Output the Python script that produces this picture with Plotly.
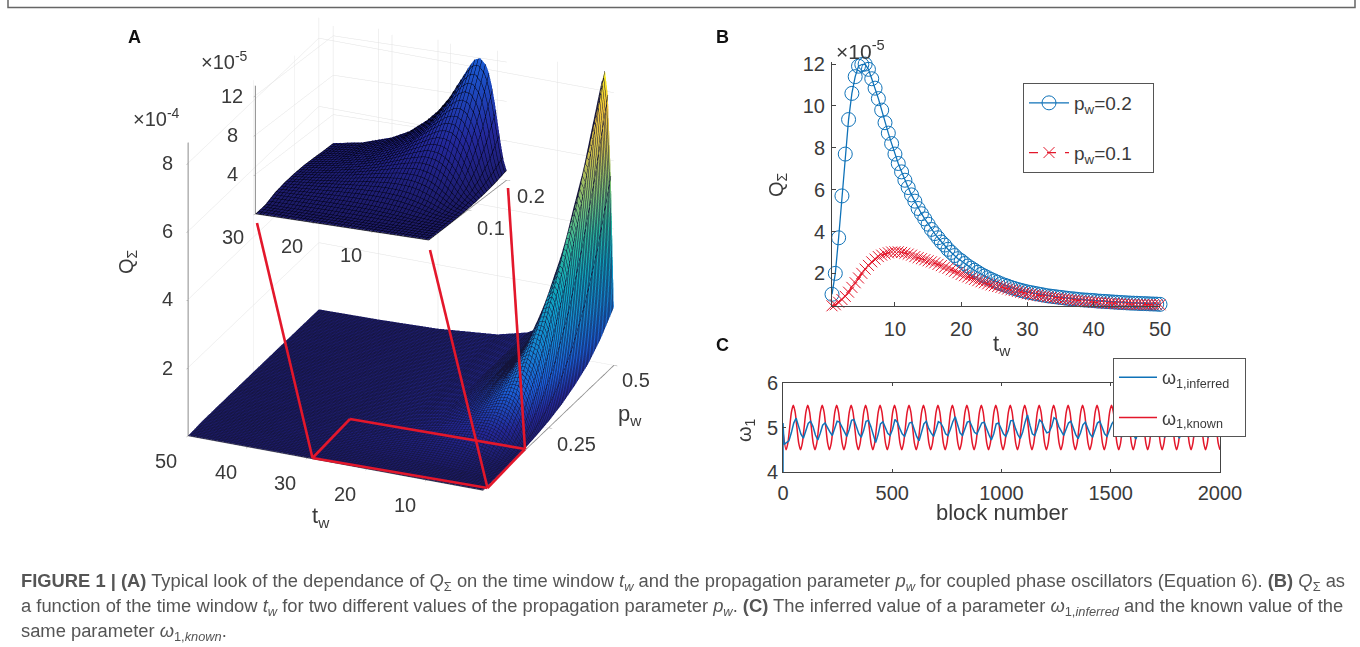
import numpy as np
import plotly.graph_objects as go

W, H = 1360, 647
FONT = "Liberation Sans"
INK = "#3a3a3a"
RED = "#e3172b"
BLUE = "#0f72b8"

# ---------- Panel A lower surface (values in units of 1e-5) ----------
a_p = [0.0, 0.05, 0.1, 0.15, 0.2, 0.25, 0.3, 0.35, 0.4, 0.45, 0.5]
a_t = [0.5, 1, 1.5, 2, 2.5, 3, 4, 5, 6, 8, 10, 12, 15, 20, 30, 40, 50]
a_q = [
    [0, .016, .125, .42, 1.0, 1.8, 3.1, 5.0, 7.5, 11.5, 17.0],
    [0, .03, .25, .84, 2.0, 4.5, 8.7, 15.4, 25.0, 38.0, 55.4],
    [0, .05, .38, 1.35, 3.7, 8.3, 15.8, 26.6, 41.0, 58.4, 79.0],
    [0, .06, .5, 2.08, 5.7, 12.3, 22.0, 34.8, 50.2, 67.5, 86.3],
    [0, .08, .7, 2.9, 7.7, 15.5, 26.0, 38.7, 52.8, 68.0, 82.7],
    [0, .09, .93, 3.77, 9.35, 17.6, 28.1, 39.4, 51.7, 62.9, 74.4],
    [0, .13, 1.43, 5.26, 11.4, 19.2, 27.7, 35.6, 43.1, 49.9, 55.4],
    [0, .18, 1.93, 6.19, 12.0, 18.4, 24.4, 29.5, 33.9, 37.4, 41.3],
    [0, .23, 2.34, 6.69, 11.75, 16.6, 20.8, 23.6, 26.8, 28.4, 31.3],
    [0, .36, 2.85, 6.61, 9.8, 12.3, 14.4, 16.1, 17.2, 18.1, 18.7],
    [0, .48, 3.0, 5.82, 7.7, 9.2, 10.3, 11.0, 11.4, 11.6, 11.8],
    [0, .58, 2.94, 4.95, 6.1, 6.96, 7.55, 7.9, 7.9, 7.9, 8.0],
    [0, .69, 2.59, 3.71, 4.35, 4.6, 4.8, 4.85, 4.9, 4.95, 5.0],
    [0, .75, 1.93, 2.45, 2.6, 2.7, 2.75, 2.75, 2.8, 2.8, 2.8],
    [0, .65, 1.09, 1.15, 1.11, 1.15, 1.2, 1.2, 1.22, 1.24, 1.24],
    [0, .48, .65, .62, .65, .68, .68, .7, .7, .7, .7],
    [0, .36, .41, .42, .42, .45, .45, .45, .45, .45, .45],
]

# ---------- Panel A inset surface (values in units of 1e-5) ----------
i_p = [0.0, 0.025, 0.05, 0.075, 0.1, 0.125, 0.15, 0.175, 0.2]
i_t = [0.5, 1, 1.5, 2, 2.5, 3, 3.5, 4, 5, 6, 7, 8, 9, 10, 12, 14, 17, 20, 25, 30]
i_q = [
    [0, .002, .016, .053, .125, .24, .42, .67, 1.0],
    [0, .004, .031, .105, .25, .49, .84, 1.34, 2.0],
    [0, .006, .047, .158, .375, .73, 1.35, 2.3, 3.7],
    [0, .008, .063, .21, .5, 1.09, 2.08, 3.6, 5.7],
    [0, .01, .078, .264, .7, 1.54, 2.93, 4.9, 7.7],
    [0, .012, .094, .34, .93, 2.03, 3.77, 6.2, 9.35],
    [0, .014, .11, .42, 1.18, 2.5, 4.56, 7.28, 10.6],
    [0, .016, .125, .52, 1.43, 3.0, 5.26, 8.12, 11.4],
    [0, .02, .175, .73, 1.93, 3.78, 6.19, 9.04, 12.0],
    [0, .023, .23, .94, 2.34, 4.29, 6.69, 9.19, 11.75],
    [0, .027, .29, 1.14, 2.65, 4.6, 6.75, 8.89, 10.85],
    [0, .031, .36, 1.31, 2.85, 4.68, 6.61, 8.31, 9.8],
    [0, .037, .42, 1.45, 2.98, 4.68, 6.24, 7.58, 8.8],
    [0, .044, .48, 1.55, 3.0, 4.49, 5.82, 6.89, 7.7],
    [0, .058, .58, 1.67, 2.94, 4.04, 4.95, 5.52, 6.1],
    [0, .073, .66, 1.69, 2.71, 3.51, 4.05, 4.52, 4.9],
    [0, .097, .73, 1.6, 2.33, 2.77, 3.15, 3.37, 3.5],
    [0, .12, .75, 1.46, 1.93, 2.24, 2.45, 2.57, 2.6],
    [0, .15, .72, 1.18, 1.44, 1.6, 1.69, 1.69, 1.64],
    [0, .17, .65, .93, 1.09, 1.17, 1.15, 1.11, 1.11],
]

# ---------- Panel B ----------
b_t = [i * 0.5 for i in range(1, 101)]
b_q02 = [
    1.0, 2.0, 3.7, 5.7, 7.7, 9.35, 10.6, 11.4, 11.9, 11.98,
    12.0, 11.75, 11.3, 10.85, 10.35, 9.8, 9.2, 8.7, 8.2, 7.7,
    7.25, 6.85, 6.45, 6.1, 5.75, 5.45, 5.1, 4.85, 4.6, 4.35,
    4.1, 3.9, 3.7, 3.5, 3.35, 3.15, 3.0, 2.85, 2.7, 2.6,
    2.47, 2.35, 2.25, 2.15, 2.05, 1.95, 1.87, 1.79, 1.71, 1.64,
    1.57, 1.5, 1.44, 1.39, 1.33, 1.28, 1.23, 1.19, 1.15, 1.11,
    1.08, 1.05, 1.02, .99, .96, .93, .91, .89, .87, .85,
    .83, .81, .79, .78, .76, .74, .73, .72, .71, .70,
    .68, .67, .66, .65, .64, .63, .62, .61, .60, .59,
    .58, .575, .57, .56, .555, .55, .54, .535, .53, .52,
]
b_q01 = [
    .45, .5, .62, .75, .9, 1.1, 1.33, 1.55, 1.78, 2.0,
    2.2, 2.38, 2.55, 2.68, 2.8, 2.87, 2.93, 2.98, 3.02, 3.03,
    3.03, 3.0, 2.96, 2.92, 2.87, 2.8, 2.75, 2.7, 2.65, 2.6,
    2.55, 2.5, 2.43, 2.37, 2.3, 2.24, 2.17, 2.1, 2.03, 1.95,
    1.89, 1.83, 1.77, 1.71, 1.65, 1.6, 1.55, 1.5, 1.45, 1.41,
    1.37, 1.33, 1.29, 1.25, 1.21, 1.18, 1.14, 1.1, 1.07, 1.03,
    1.0, .97, .95, .92, .9, .87, .85, .83, .81, .79,
    .77, .75, .73, .71, .70, .68, .67, .65, .64, .62,
    .61, .60, .59, .58, .57, .56, .55, .54, .53, .53,
    .52, .52, .51, .51, .50, .50, .50, .50, .50, .50,
]

# ---------- Panel C ----------
c_known = [
    4.9,
    4.5, 4.65, 5.0, 5.35, 5.5, 5.35, 5.0, 4.65, 4.5, 4.65, 5.0, 5.35, 5.5, 5.35, 5.0, 4.65,
    4.5, 4.65, 5.0, 5.35, 5.5, 5.35, 5.0, 4.65, 4.5, 4.65, 5.0, 5.35, 5.5, 5.35, 5.0, 4.65,
    4.5, 4.65, 5.0, 5.35, 5.5, 5.35, 5.0, 4.65, 4.5, 4.65, 5.0, 5.35, 5.5, 5.35, 5.0, 4.65,
    4.5, 4.65, 5.0, 5.35, 5.5, 5.35, 5.0, 4.65, 4.5, 4.65, 5.0, 5.35, 5.5, 5.35, 5.0, 4.65,
    4.5, 4.65, 5.0, 5.35, 5.5, 5.35, 5.0, 4.65, 4.5, 4.65, 5.0, 5.35, 5.5, 5.35, 5.0, 4.65,
    4.5, 4.65, 5.0, 5.35, 5.5, 5.35, 5.0, 4.65, 4.5, 4.65, 5.0, 5.35, 5.5, 5.35, 5.0, 4.65,
    4.5, 4.65, 5.0, 5.35, 5.5, 5.35, 5.0, 4.65, 4.5, 4.65, 5.0, 5.35, 5.5, 5.35, 5.0, 4.65,
    4.5, 4.65, 5.0, 5.35, 5.5, 5.35, 5.0, 4.65, 4.5, 4.65, 5.0, 5.35, 5.5, 5.35, 5.0, 4.65,
    4.5, 4.65, 5.0, 5.35, 5.5, 5.35, 5.0, 4.65, 4.5, 4.65, 5.0, 5.35, 5.5, 5.35, 5.0, 4.65,
    4.5, 4.65, 5.0, 5.35, 5.5, 5.35, 5.0, 4.65, 4.5, 4.65, 5.0, 5.35, 5.5, 5.35, 5.0, 4.65,
    4.5, 4.65, 5.0, 5.35, 5.5, 5.35, 5.0, 4.65, 4.5, 4.65, 5.0, 5.35, 5.5, 5.35, 5.0, 4.65,
    4.5, 4.65, 5.0, 5.35, 5.5, 5.35, 5.0, 4.65, 4.5, 4.65, 5.0, 5.35, 5.5, 5.35, 5.0, 4.65,
    4.5, 4.65, 5.0, 5.35, 5.5, 5.35, 5.0, 4.65, 4.5, 4.65, 5.0, 5.35, 5.5, 5.35, 5.0, 4.65,
    4.5, 4.65, 5.0, 5.35, 5.5, 5.35, 5.0, 4.65, 4.5, 4.65, 5.0, 5.35, 5.5, 5.35, 5.0, 4.65,
    4.5, 4.65, 5.0, 5.35, 5.5, 5.35, 5.0, 4.65, 4.5, 4.65, 5.0, 5.35, 5.5, 5.35, 5.0, 4.65,
    4.5,
]
c_known_blocks = [0] + [14 + 8.275 * i for i in range(len(c_known) - 1)]
c_inferred = [
    4.0, 5.1,
    4.62, 4.66, 4.70, 4.88, 5.10, 5.21,
    5.05, 4.85, 4.76, 4.92, 5.09, 5.14,
    5.02, 4.83, 4.72, 4.87, 5.05, 5.10,
    4.98, 4.90, 4.82, 4.99, 5.14, 5.12,
    5.00, 4.88, 4.80, 4.95, 5.16, 5.18,
    5.04, 4.86, 4.78, 4.93, 5.14, 5.16,
    5.02, 4.82, 4.66, 4.84, 5.08, 5.13,
    5.00, 4.87, 4.82, 4.96, 5.18, 5.12,
    4.98, 4.86, 4.80, 4.95, 5.10, 5.12,
    4.96, 4.80, 4.70, 4.88, 5.08, 5.14,
    4.98, 4.88, 4.80, 4.95, 5.13, 5.10,
    5.00, 4.86, 4.82, 4.96, 5.13, 5.24,
    5.06, 4.88, 4.82, 4.96, 5.12, 5.14,
    5.00, 4.89, 4.85, 4.97, 5.10, 5.12,
    4.96, 4.84, 4.72, 4.86, 5.08, 5.10,
    4.98, 4.86, 4.80, 4.93, 5.15, 5.16,
    4.98, 4.84, 4.75, 4.90, 5.12, 5.28,
    5.05, 4.86, 4.82, 4.97, 5.17, 5.12,
    4.98, 4.88, 4.90, 5.02, 5.22, 5.18,
    5.02, 4.90, 4.82, 4.96, 5.10, 5.14,
    5.00, 4.84, 4.75, 4.88, 5.06, 5.12,
    4.98, 4.85, 4.78, 4.92, 5.10, 5.14,
    5.00, 4.86, 4.80, 4.93, 5.08, 5.16,
    5.02, 4.88, 4.78, 4.95, 5.12, 5.14,
    4.98, 4.84, 4.74, 4.90, 5.08, 5.12,
    5.00, 4.85, 4.80, 4.94, 5.10, 5.15,
    5.00, 4.86, 4.78, 4.92, 5.12, 5.14,
    4.98, 4.85, 4.76, 4.90, 5.08, 5.12,
    5.00, 4.86, 4.80, 4.94, 5.10, 5.14,
    5.00, 4.86, 4.78, 4.92, 5.08, 5.12,
]
c_inferred_blocks = [0, 0] + [5 + 11.03 * i for i in range(len(c_inferred) - 2)]

CAPTION = [
    "<b>FIGURE 1 | (A)</b> Typical look of the dependance of <i>Q</i><sub>Σ</sub> on the time window <i>t<sub>w</sub></i> and the propagation parameter <i>p<sub>w</sub></i> for coupled phase oscillators (Equation 6). <b>(B)</b> <i>Q</i><sub>Σ</sub> as",
    "a function of the time window <i>t<sub>w</sub></i> for two different values of the propagation parameter <i>p<sub>w</sub></i>. <b>(C)</b> The inferred value of a parameter <i>ω</i><sub>1,<i>inferred</i></sub> and the known value of the",
    "same parameter <i>ω</i><sub>1,<i>known</i></sub>.",
]

PARULA = [
    [0.00, "#1c1a66"], [0.06, "#23289a"], [0.14, "#1a5fd8"], [0.25, "#1489d4"],
    [0.38, "#0fa6c0"], [0.50, "#2bb79c"], [0.62, "#7cbf74"], [0.75, "#c5bc4e"],
    [0.88, "#f3c63a"], [1.00, "#f9f020"],
]


def px(x):
    return x / W


def py(y):
    return 1 - y / H


def txt(x, y, s, size=20, anchor="center", angle=0, color=INK):
    return dict(xref="paper", yref="paper", x=px(x), y=py(y), text=s, showarrow=False,
                xanchor=anchor, yanchor="middle", textangle=angle,
                font=dict(family=FONT, size=size, color=color))


def seg(x0, y0, x1, y1, color=RED, width=2.6):
    return dict(type="line", xref="paper", yref="paper", x0=px(x0), y0=py(y0), x1=px(x1), y1=py(y1),
                line=dict(color=color, width=width))


def tick3d(x, y, z, s, dx, dy):
    return dict(x=x, y=y, z=z, text=s, showarrow=False, xshift=dx, yshift=dy,
                font=dict(family=FONT, size=20, color=INK))


def axis3d(rng, tickvals):
    return dict(range=rng, tickvals=tickvals, showticklabels=False, title="", showbackground=False,
                showgrid=True, gridcolor="#e2e2e2", gridwidth=1, zeroline=False, showline=True,
                linecolor="#8c8c8c", linewidth=2, ticks="outside", ticklen=4, tickcolor="#8c8c8c",
                showspikes=False)


def mesh(lo, hi, step, color="#14143a"):
    return dict(show=True, start=lo, end=hi, size=step, color=color, width=1, highlight=False)


LIGHT = dict(ambient=1, diffuse=0, specular=0, roughness=1, fresnel=0)

fig = go.Figure()
fig.add_trace(go.Surface(x=a_p, y=a_t, z=a_q, scene="scene", colorscale=PARULA, cmin=0, cmax=86,
                         showscale=False, hoverinfo="skip", lighting=LIGHT,
                         contours=dict(x=mesh(0, 0.5, 0.005), y=mesh(0.5, 50, 0.5),
                                       z=dict(highlight=False))))
fig.add_trace(go.Surface(x=i_p, y=i_t, z=i_q, scene="scene2", colorscale=PARULA, cmin=0, cmax=86,
                         showscale=False, hoverinfo="skip", lighting=LIGHT,
                         contours=dict(x=mesh(0, 0.2, 0.0065, "#000010"), y=mesh(0.5, 30, 0.6, "#000010"),
                                       z=dict(highlight=False))))

PAD_B = "\u00a0\u00a0\u00a0"
PAD_C = "\u00a0\u00a0"
fig.add_trace(go.Scatter(x=b_t, y=b_q02, mode="lines+markers", name="p<sub>w</sub>=0.2" + PAD_B, xaxis="x", yaxis="y",
                         line=dict(color=BLUE, width=1.3), cliponaxis=False, legendgroup="b1", legend="legend",
                         marker=dict(symbol="circle-open", size=14, color=BLUE, line=dict(width=1, color=BLUE))))
fig.add_trace(go.Scatter(x=b_t, y=b_q01, mode="lines+markers", name="p<sub>w</sub>=0.1" + PAD_B, xaxis="x", yaxis="y",
                         line=dict(color=RED, width=1.3, dash="dash"), cliponaxis=False, legendgroup="b2", legend="legend",
                         marker=dict(symbol="x-thin-open", size=11, color=RED, line=dict(width=1, color=RED))))
fig.add_trace(go.Scatter(x=c_known_blocks, y=c_known, mode="lines", name="ω<sub>1,known</sub>", xaxis="x2", yaxis="y2",
                         line=dict(color=RED, width=1.5, shape="spline", smoothing=0.8), legend="legend2",
                         legendgroup="c2", legendrank=2))
fig.add_trace(go.Scatter(x=c_inferred_blocks, y=c_inferred, mode="lines", name="ω<sub>1,inferred</sub>" + PAD_C, xaxis="x2", yaxis="y2",
                         line=dict(color=BLUE, width=1.5), legend="legend2", legendgroup="c1", legendrank=1))

lower_ann = [tick3d(0, t, 0, str(t), -22, -25) for t in [10, 20, 30, 40, 50]]
lower_ann += [tick3d(0.25, 0.5, 0, "0.25", 28, -16), tick3d(0.5, 0.5, 0, "0.5", 22, -15)]
lower_ann += [tick3d(0, 50, v, str(v // 10), -21, 0) for v in [20, 40, 60, 80]]
inset_ann = [tick3d(0, t, 0, str(t), -22, -23) for t in [10, 20, 30]]
inset_ann += [tick3d(0.1, 0.5, 0, "0.1", 23, -18), tick3d(0.2, 0.5, 0, "0.2", 24, -16)]
inset_ann += [tick3d(0, 30, v, str(v), -23, 0) for v in [4, 8, 12]]

scene_base = dict(bgcolor="rgba(0,0,0,0)", dragmode=False, aspectmode="manual")
R_LOW, R_INS = 1.42, 1.25
fig.update_layout(
    width=W, height=H, margin=dict(l=0, r=0, t=0, b=0, autoexpand=False), paper_bgcolor="white", plot_bgcolor="white",
    font=dict(family=FONT, color=INK),
    scene=dict(scene_base, domain=dict(x=[px(121), px(681)], y=[py(494), py(14)]),
               xaxis=axis3d([0, 0.5], [0.25, 0.5]), yaxis=axis3d([0.5, 50], [10, 20, 30, 40, 50]),
               zaxis=axis3d([0, 86], [20, 40, 60, 80]),
               aspectratio=dict(x=1.353, y=0.976 * 1.376, z=0.94 * 1.432),
               camera=dict(projection=dict(type="orthographic"), up=dict(x=0, y=0, z=1),
                           center=dict(x=0, y=0, z=0),
                           eye=dict(x=-0.830 * R_LOW, y=-0.365 * R_LOW, z=0.420 * R_LOW)),
               annotations=lower_ann),
    scene2=dict(scene_base, domain=dict(x=[px(230), px(532)], y=[py(256), py(10)]),
                xaxis=axis3d([0, 0.2], [0.1, 0.2]), yaxis=axis3d([0.5, 30], [10, 20, 30]),
                zaxis=axis3d([0, 13], [4, 8, 12]),
                aspectratio=dict(x=1.56, y=0.97 * 1.59, z=0.71 * 1.56),
                camera=dict(projection=dict(type="orthographic"), up=dict(x=0, y=0, z=1),
                            center=dict(x=0, y=0, z=0),
                            eye=dict(x=-0.859 * R_INS, y=-0.381 * R_INS, z=0.341 * R_INS)),
                annotations=inset_ann),
    xaxis=dict(domain=[px(832), px(1160)], range=[0.5, 50], anchor="y", tickvals=[10, 20, 30, 40, 50],
               showgrid=False, zeroline=False, showline=True, linecolor="#444", ticks="inside", ticklen=4,
               ticklabelstandoff=5, tickcolor="#444", tickfont=dict(size=20, color=INK, family=FONT)),
    yaxis=dict(domain=[py(306), py(62)], range=[0.44, 12.1], anchor="x", tickvals=[2, 4, 6, 8, 10, 12],
               showgrid=False, zeroline=False, showline=True, linecolor="#444", ticks="inside", ticklen=4,
               ticklabelstandoff=2, tickcolor="#444", tickfont=dict(size=20, color=INK, family=FONT)),
    xaxis2=dict(domain=[px(783), px(1220)], range=[0, 2000], anchor="y2", tickvals=[0, 500, 1000, 1500, 2000],
                showgrid=False, zeroline=False, showline=True, mirror="ticks", linecolor="#444", ticks="inside",
                ticklen=3, ticklabelstandoff=3, tickcolor="#444", tickfont=dict(size=20, color=INK, family=FONT)),
    yaxis2=dict(domain=[py(472), py(383)], range=[4, 6], anchor="x2", tickvals=[4, 5, 6],
                showgrid=False, zeroline=False, showline=True, mirror="ticks", linecolor="#444", ticks="inside",
                ticklen=3, tickcolor="#444", tickfont=dict(size=20, color=INK, family=FONT)),
    legend=dict(x=px(1023), y=py(83), xanchor="left", yanchor="top", bgcolor="white", bordercolor="#555",
                borderwidth=1, font=dict(size=19, family=FONT, color=INK), itemwidth=40, tracegroupgap=22),
    legend2=dict(x=px(1113), y=py(358), xanchor="left", yanchor="top", bgcolor="white", bordercolor="#555",
                 borderwidth=1, font=dict(size=18, family=FONT, color=INK), itemwidth=38, tracegroupgap=14),
    showlegend=True,
    shapes=[
        dict(type="path", xref="paper", yref="paper",
             path=f"M {px(8)} 1 L {px(8)} {py(7.5)} L {px(1355)} {py(7.5)} L {px(1355)} 1",
             line=dict(color="#666", width=1.5)),
        seg(257, 223, 312.5, 458), seg(430, 250, 487.5, 488), seg(508, 188, 525, 449),
        seg(312.5, 458, 487.5, 488), seg(487.5, 488, 525, 449), seg(525, 449, 350, 419), seg(350, 419, 312.5, 458),
    ],
    annotations=[
        txt(134, 37, "<b>A</b>", 18, color="#111"), txt(722, 37, "<b>B</b>", 18, color="#111"),
        txt(722, 345, "<b>C</b>", 18, color="#111"),
        txt(156, 117, "×10<sup>-4</sup>", 20), txt(224, 60, "×10<sup>-5</sup>", 20),
        txt(860, 50, "×10<sup>-5</sup>", 21),
        txt(127, 262, "Q<sub>Σ</sub>", 20, angle=-90),
        txt(321, 517, "t<sub>w</sub>", 22), txt(630, 415, "p<sub>w</sub>", 22),
        txt(777, 185, "Q<sub>Σ</sub>", 20, angle=-90), txt(1002, 345, "t<sub>w</sub>", 22),
        txt(745, 430, "ω<sub>1</sub>", 20, angle=-90), txt(1002, 512, "block number", 22),
        txt(19, 582, CAPTION[0], 18.35, "left", color="#555"),
        txt(19, 607, CAPTION[1], 18.35, "left", color="#555"),
        txt(19, 632, CAPTION[2], 18.35, "left", color="#555"),
    ],
)
fig.write_html("out.html", post_script="document.body.style.margin='0';",
               config=dict(displayModeBar=False))
